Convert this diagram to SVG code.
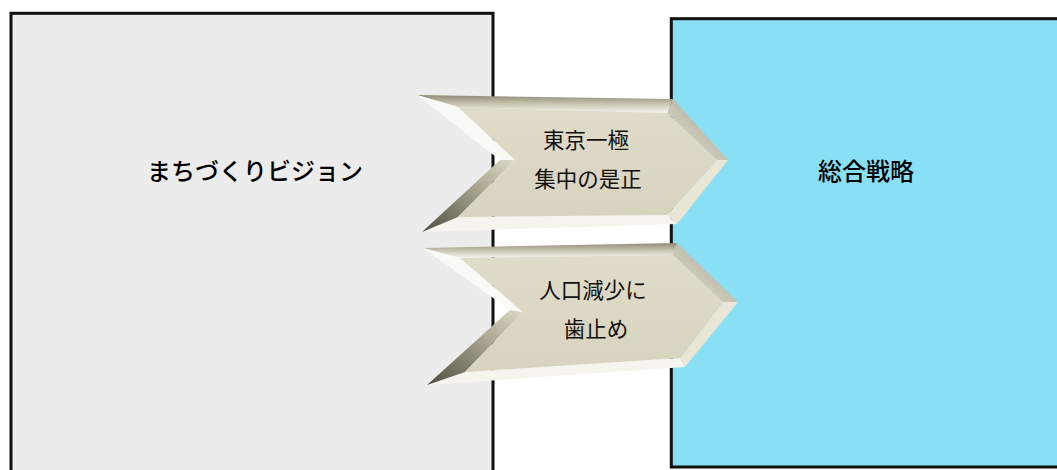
<svg xmlns="http://www.w3.org/2000/svg" width="1057" height="470" viewBox="0 0 1057 470">
<style>
.box{stroke:#111;stroke-width:3}
.lbl{font-family:"Noto Sans CJK JP","Noto Sans",sans-serif;font-size:24px;font-weight:500;fill:#000;text-anchor:middle}
.ctx{font-family:"Noto Sans CJK JP","Noto Sans",sans-serif;font-size:21.5px;fill:#111;text-anchor:middle}
.face{fill:url(#gFace)}
.ftop{fill:url(#gTop)}
.ftr{fill:url(#gTR)}
.fbr{fill:#e9e6d6}
.fbot{fill:#f5f4ee}
.fbl{fill:url(#gBL)}
.ftl{fill:#f9f9f5}
</style>
<defs>
<linearGradient id="gFace" x1="0" y1="0" x2="0" y2="1">
<stop offset="0" stop-color="#e0dcc9"/><stop offset="1" stop-color="#d8d3bf"/>
</linearGradient>
<linearGradient id="gTop" x1="0" y1="0" x2="0" y2="1">
<stop offset="0" stop-color="#8e8a77"/><stop offset="0.5" stop-color="#c9c5b1"/><stop offset="1" stop-color="#f6f5ee"/>
</linearGradient>
<linearGradient id="gTR" x1="1" y1="0" x2="0" y2="1">
<stop offset="0" stop-color="#9d9985"/><stop offset="1" stop-color="#ebe8da"/>
</linearGradient>
<linearGradient id="gBL" x1="0" y1="1" x2="1" y2="0">
<stop offset="0" stop-color="#4e4c3e"/><stop offset="0.6" stop-color="#a9a590"/><stop offset="1" stop-color="#ddd9c6"/>
</linearGradient>
</defs>
<g id="vision">
<rect class="box" x="11" y="13.3" width="482" height="480" fill="#ececec"/>
<text class="lbl" x="255" y="180">まちづくりビジョン</text>
</g>
<g id="strategy">
<rect class="box" x="671.3" y="18.7" width="420" height="448.3" fill="#89e0f5"/>
<text class="lbl" x="866" y="180">総合戦略</text>
</g>
<g id="connectors">
<g id="arrow1">
<polygon class="ftop" points="417,95 673,99 667,113 458,107"/>
<polygon class="ftr" points="673,99 728,160 717,160 667,113"/>
<polygon class="fbr" points="728,160 677,224 667,215 717,160"/>
<polygon class="fbot" points="677,224 422,232 458,217 667,215"/>
<polygon class="fbl" points="422,232 500,160 515,160 458,217"/>
<polygon class="ftl" points="500,160 417,95 458,107 515,160"/>
<polygon class="face" points="458,107 667,113 717,160 667,215 458,217 515,160"/>
<text class="ctx" x="586" y="148">東京一極</text>
<text class="ctx" x="588" y="187">集中の是正</text>
</g>
<g id="arrow2">
<polygon class="ftop" points="423,248 677,243 673,255 460,258"/>
<polygon class="ftr" points="677,243 738,302 723,302 673,255"/>
<polygon class="fbr" points="738,302 685,367 680,358 723,302"/>
<polygon class="fbot" points="685,367 427,385 465,372 680,358"/>
<polygon class="fbl" points="427,385 510,310 523,312 465,372"/>
<polygon class="ftl" points="510,310 423,248 460,258 523,312"/>
<polygon class="face" points="460,258 673,255 723,302 680,358 465,372 523,312"/>
<text class="ctx" x="593" y="298">人口減少に</text>
<text class="ctx" x="596" y="337">歯止め</text>
</g>
</g>
</svg>
